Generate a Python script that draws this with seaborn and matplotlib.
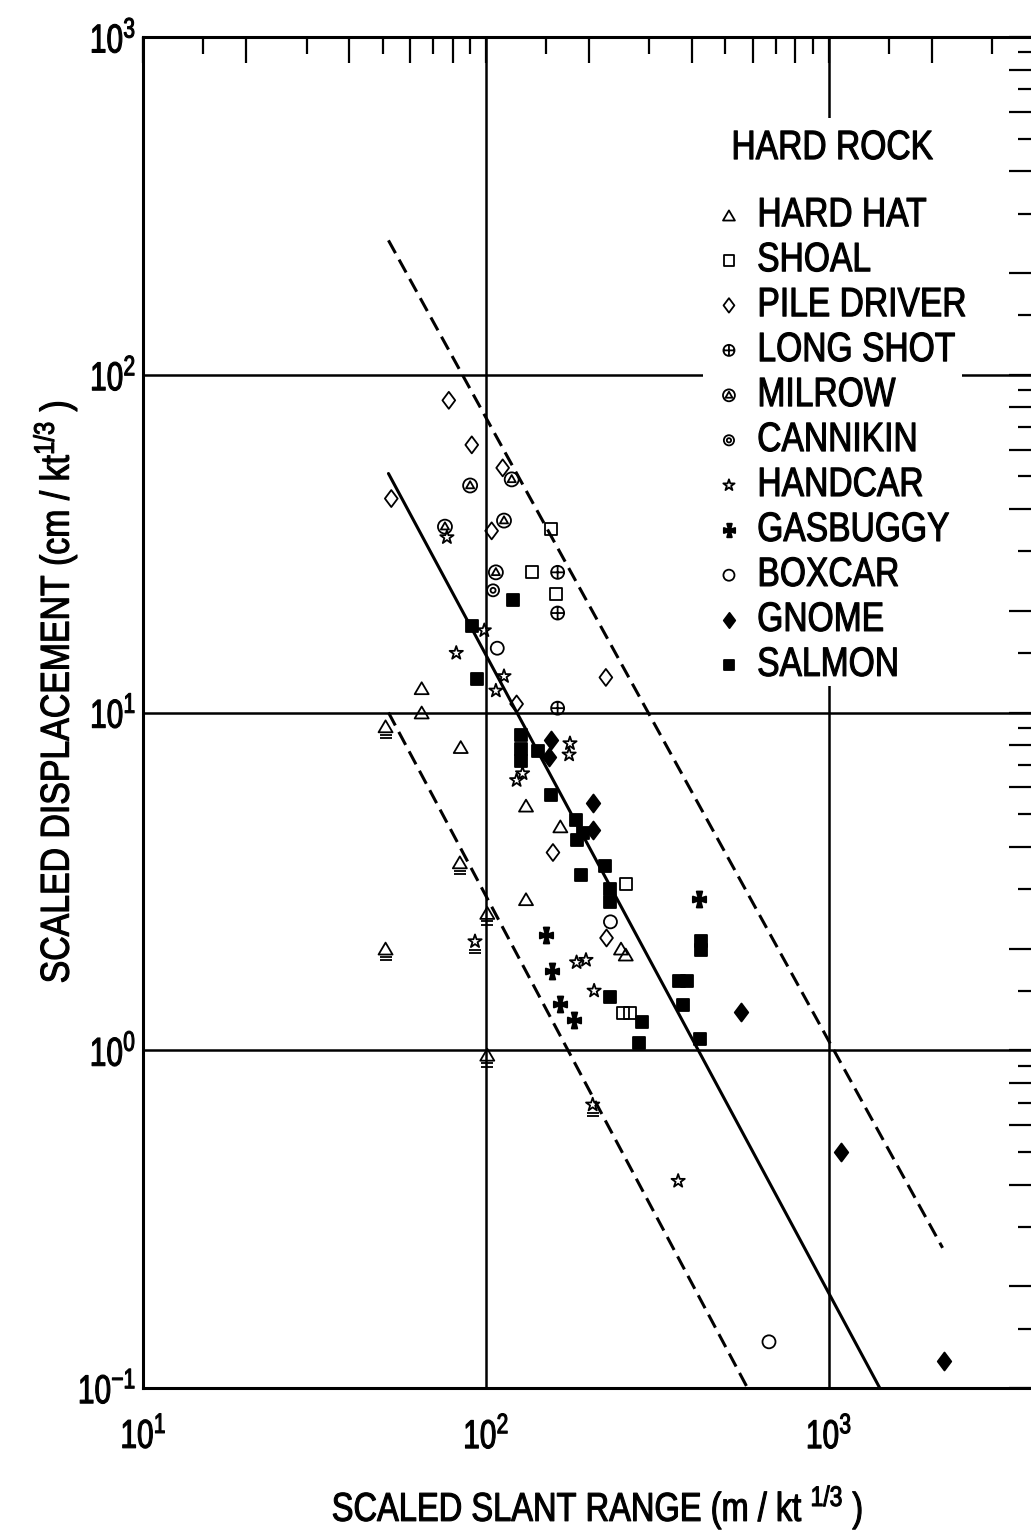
import numpy as np
import pandas as pd
import matplotlib
matplotlib.use("Agg")
import matplotlib.pyplot as plt
import seaborn as sns
from matplotlib.path import Path
from matplotlib.patches import Rectangle
from matplotlib.patheffects import AbstractPathEffect
from matplotlib.ticker import LogLocator, FuncFormatter, NullFormatter
from matplotlib.transforms import offset_copy, Affine2D

# ---------------------------------------------------------------------------
# Scaled displacement vs scaled slant range, hard-rock events
# ---------------------------------------------------------------------------
hard_hat_x = [51, 65, 65, 84.5, 84, 101, 51, 101, 131, 165, 131, 248, 256]
hard_hat_y = [9.1, 11.8, 10.0, 7.9, 3.6, 2.55, 2.0, 0.97, 5.3, 4.6, 2.8, 2.0, 1.92]
hard_hat_bound = [1, 0, 0, 0, 1, 1, 1, 1, 0, 0, 0, 0, 0]

shoal_x = [155, 136, 160, 256, 252, 263]
shoal_y = [35, 26, 22.5, 3.1, 1.29, 1.29]

pile_driver_x = [78, 91, 112, 53, 104, 123, 224, 157, 225]
pile_driver_y = [84, 62, 53, 43, 34.5, 10.6, 12.7, 3.85, 2.15]

long_shot_x = [162, 162, 162]
long_shot_y = [26, 19.7, 10.3]

milrow_x = [119, 90, 76, 113, 107]
milrow_y = [49, 47, 35.5, 37, 26]

cannikin_x = [105]
cannikin_y = [23]

handcar_x = [77, 99, 82, 113, 107, 176, 175, 128, 123, 93, 184, 196, 207, 205, 364]
handcar_y = [33, 17.5, 15, 12.8, 11.6, 8.1, 7.5, 6.6, 6.3, 2.1, 1.82, 1.85, 1.5, 0.69, 0.41]
handcar_bound = [0, 0, 0, 0, 0, 0, 0, 0, 0, 1, 0, 0, 0, 1, 0]

gasbuggy_x = [150, 420, 156, 165, 181]
gasbuggy_y = [2.2, 2.8, 1.72, 1.37, 1.23]

boxcar_x = [108, 231, 670]
boxcar_y = [15.5, 2.4, 0.137]

gnome_x = [155, 153, 205, 205, 556, 1090, 2170]
gnome_y = [8.3, 7.4, 5.4, 4.5, 1.3, 0.50, 0.12]

salmon_x = [91, 94, 120, 127, 127, 127, 142, 155, 183, 184, 192, 222, 189,
            230, 230, 425, 425, 230, 365, 385, 376, 286, 280, 421]
salmon_y = [18, 12.6, 21.6, 8.6, 7.8, 7.2, 7.7, 5.7, 4.8, 4.2, 4.4, 3.5, 3.3,
            3.0, 2.75, 2.1, 1.98, 1.44, 1.6, 1.6, 1.36, 1.21, 1.05, 1.08]

# Fitted attenuation line and its bounds
fit_x = [52, 1410]
fit_y = [51, 0.1]
upper_x = [52, 2150]
upper_y = [250, 0.26]
lower_x = [52, 580]
lower_y = [10, 0.1]

legend_title = "  HARD ROCK"
x_label = r"SCALED SLANT RANGE (m / kt $^{1/3}$ )"
y_label = r"SCALED DISPLACEMENT (cm / kt$^{1/3}$ )"

# ---------------------------------------------------------------------------
# Style
# ---------------------------------------------------------------------------
sns.set_theme(style="white")
FONT = ["Liberation Sans", "DejaVu Sans"]
plt.rcParams.update({
    "font.family": FONT,
    "mathtext.fontset": "custom",
    "mathtext.rm": "Liberation Sans",
    "mathtext.it": "Liberation Sans",
    "mathtext.bf": "Liberation Sans:bold",
    "mathtext.default": "regular",
    "axes.linewidth": 2.2,
    "axes.edgecolor": "black",
    "axes.facecolor": "white",
    "text.color": "black",
    "axes.labelcolor": "black",
    "xtick.color": "black",
    "ytick.color": "black",
})

PX = 0.72  # points per pixel at 100 dpi


class Condensed(AbstractPathEffect):
    """Draw text narrowed horizontally (condensed lettering), slightly heavy."""

    def __init__(self, sx=0.78, anchor="center", stroke=0.8):
        super().__init__()
        self.sx, self.anchor, self.stroke = sx, anchor, stroke

    def draw_path(self, renderer, gc, tpath, affine, rgbFace=None):
        ext = tpath.get_extents()
        cx = {"left": ext.x0, "right": ext.x1}.get(self.anchor, 0.5 * (ext.x0 + ext.x1))
        aff = Affine2D().translate(-cx, 0).scale(self.sx, 1).translate(cx, 0) + affine
        gc0 = renderer.new_gc()
        gc0.copy_properties(gc)
        gc0.set_linewidth(self.stroke)
        renderer.draw_path(gc0, tpath, aff, rgbFace)
        gc0.restore()


def closed(verts):
    return Path(list(verts) + [verts[0]],
                [Path.MOVETO] + [Path.LINETO] * (len(verts) - 1) + [Path.CLOSEPOLY])


triangle = closed([(0, 0.85), (-1, -0.85), (1, -0.85)])
diamond = closed([(0, 1), (0.75, 0), (0, -1), (-0.75, 0)])
circle = Path.unit_circle()
plus = Path([(-1, 0), (1, 0), (0, -1), (0, 1)],
            [Path.MOVETO, Path.LINETO, Path.MOVETO, Path.LINETO])
long_shot_marker = Path.make_compound_path(circle, plus)
milrow_marker = Path.make_compound_path(
    circle, closed([(0, 0.62), (-0.58, -0.4), (0.58, -0.4)]))
cannikin_marker = Path.make_compound_path(circle, Path.circle((0, 0), 0.42))
pattee = closed([(-0.15, 0.18), (-0.42, 1.2), (0.42, 1.2), (0.15, 0.18),
                 (1, 0.45), (1, -0.45), (0.15, -0.18), (0.42, -1.2),
                 (-0.42, -1.2), (-0.15, -0.18), (-1, -0.45), (-1, 0.45)])
double_bar = Path([(-1, 0.3), (1, 0.3), (-1, -0.3), (1, -0.3)],
                  [Path.MOVETO, Path.LINETO, Path.MOVETO, Path.LINETO])

# (label, x, y, marker, filled, marker size in px)
events = [
    ("HARD HAT", hard_hat_x, hard_hat_y, triangle, False, 14),
    ("SHOAL", shoal_x, shoal_y, "s", False, 12),
    ("PILE DRIVER", pile_driver_x, pile_driver_y, diamond, False, 17),
    ("LONG SHOT", long_shot_x, long_shot_y, long_shot_marker, False, 13),
    ("MILROW", milrow_x, milrow_y, milrow_marker, False, 14),
    ("CANNIKIN", cannikin_x, cannikin_y, cannikin_marker, False, 12),
    ("HANDCAR", handcar_x, handcar_y, "*", False, 14),
    ("GASBUGGY", gasbuggy_x, gasbuggy_y, pattee, True, 16),
    ("BOXCAR", boxcar_x, boxcar_y, "o", False, 13),
    ("GNOME", gnome_x, gnome_y, diamond, True, 18),
    ("SALMON", salmon_x, salmon_y, "s", True, 12.5),
]

fig = plt.figure(figsize=(10.31, 15.30), dpi=100)
ax = fig.add_axes([143 / 1031, 1 - 1388 / 1530, 892 / 1031, 1351 / 1530])
ax.set_xscale("log")
ax.set_yscale("log")
ax.set_xlim(10, 4000)
ax.set_ylim(0.1, 1000)

# decade grid
for v in [100, 1000]:
    ax.axvline(v, color="black", lw=1.8, zorder=1)
for v in [1, 10, 100]:
    ax.axhline(v, color="black", lw=1.8, zorder=1)

# white panel behind the key
ax.add_patch(Rectangle((703 / 1031, 1 - 686 / 1530), 259 / 1031, 568 / 1530,
                       transform=fig.transFigure, facecolor="white",
                       edgecolor="none", zorder=1.5))

# attenuation lines
lines = pd.DataFrame({
    "x": fit_x + upper_x + lower_x,
    "y": fit_y + upper_y + lower_y,
    "kind": ["fit"] * 2 + ["upper"] * 2 + ["lower"] * 2,
})
sns.lineplot(data=lines[lines.kind == "fit"], x="x", y="y", ax=ax,
             color="black", lw=2.2, legend=False, zorder=2, estimator=None)
for k in ["upper", "lower"]:
    sns.lineplot(data=lines[lines.kind == k], x="x", y="y", ax=ax,
                 color="black", lw=2.2, linestyle=(0, (4.8, 2.4)),
                 legend=False, zorder=2, estimator=None)

# event symbols
for name, xs, ys, mk, filled, size in events:
    sns.scatterplot(x=xs, y=ys, ax=ax, marker=mk, s=(size * PX) ** 2,
                    color="black", facecolor="black" if filled else "none",
                    edgecolor="black", linewidth=1.3, zorder=4,
                    label=name, legend=False)

# bounded values carry a double bar beneath the symbol
bar_tr = offset_copy(ax.transData, fig=fig, x=0, y=-10 * PX, units="points")
bx = [x for x, b in zip(hard_hat_x, hard_hat_bound) if b] + \
     [x for x, b in zip(handcar_x, handcar_bound) if b]
by = [y for y, b in zip(hard_hat_y, hard_hat_bound) if b] + \
     [y for y, b in zip(handcar_y, handcar_bound) if b]
sns.scatterplot(x=bx, y=by, ax=ax, marker=double_bar, s=(12 * PX) ** 2,
                color="black", facecolor="none", edgecolor="black",
                linewidth=1.3, zorder=4, transform=bar_tr, legend=False)

# ticks: long ticks at 2,4,6,8; short at 1.5,3,5,7,9


def decade_label(v, pos):
    e = np.log10(v)
    if abs(e - round(e)) < 1e-6:
        return r"$\mathdefault{10^{%d}}$" % round(e)
    return ""


for axis in (ax.xaxis, ax.yaxis):
    axis.set_major_locator(LogLocator(base=10, subs=(1, 2, 4, 6, 8), numticks=20))
    axis.set_minor_locator(LogLocator(base=10, subs=(1.5, 3, 5, 7, 9), numticks=20))
    axis.set_major_formatter(FuncFormatter(decade_label))
    axis.set_minor_formatter(NullFormatter())

ax.tick_params(which="both", direction="in", top=True, right=True,
               width=1.6, color="black")
ax.tick_params(which="major", length=19, labelsize=29)
ax.tick_params(which="minor", length=12)
ax.tick_params(axis="x", which="major", pad=21)
ax.tick_params(axis="y", which="major", pad=5)

ax.set_xlabel(x_label, fontsize=29)
ax.set_ylabel(y_label, fontsize=29)
ax.xaxis.set_label_coords(0.509, -0.070)
ax.yaxis.set_label_coords(-0.072, 0.515)
ax.xaxis.label.set_path_effects([Condensed(0.81, "center")])
ax.yaxis.label.set_path_effects([Condensed(0.84, "center")])

for sp in ax.spines.values():
    sp.set_linewidth(2.2)
    sp.set_zorder(6)

handles, labels = ax.get_legend_handles_labels()
leg = ax.legend(handles, labels, title=legend_title, loc="upper left",
                bbox_to_anchor=(697 / 1031, 1 - 118 / 1530),
                bbox_transform=fig.transFigure, fontsize=29.5, title_fontsize=29.5,
                alignment="left", frameon=False,
                borderpad=0.27, handlelength=1.02, handletextpad=0.17,
                labelspacing=0.17, markerscale=0.85, scatterpoints=1,
                borderaxespad=0)
leg.set_zorder(5)
leg._legend_box.sep = 21
for t in leg.get_texts() + [leg.get_title()]:
    t.set_path_effects([Condensed(0.82, "left")])

fig.canvas.draw()
for tk in ax.xaxis.get_major_ticks():
    tk.label1.set_path_effects([Condensed(0.74, "center")])
for tk in ax.yaxis.get_major_ticks():
    tk.label1.set_path_effects([Condensed(0.74, "right")])

fig.savefig("out.png", dpi=100)
